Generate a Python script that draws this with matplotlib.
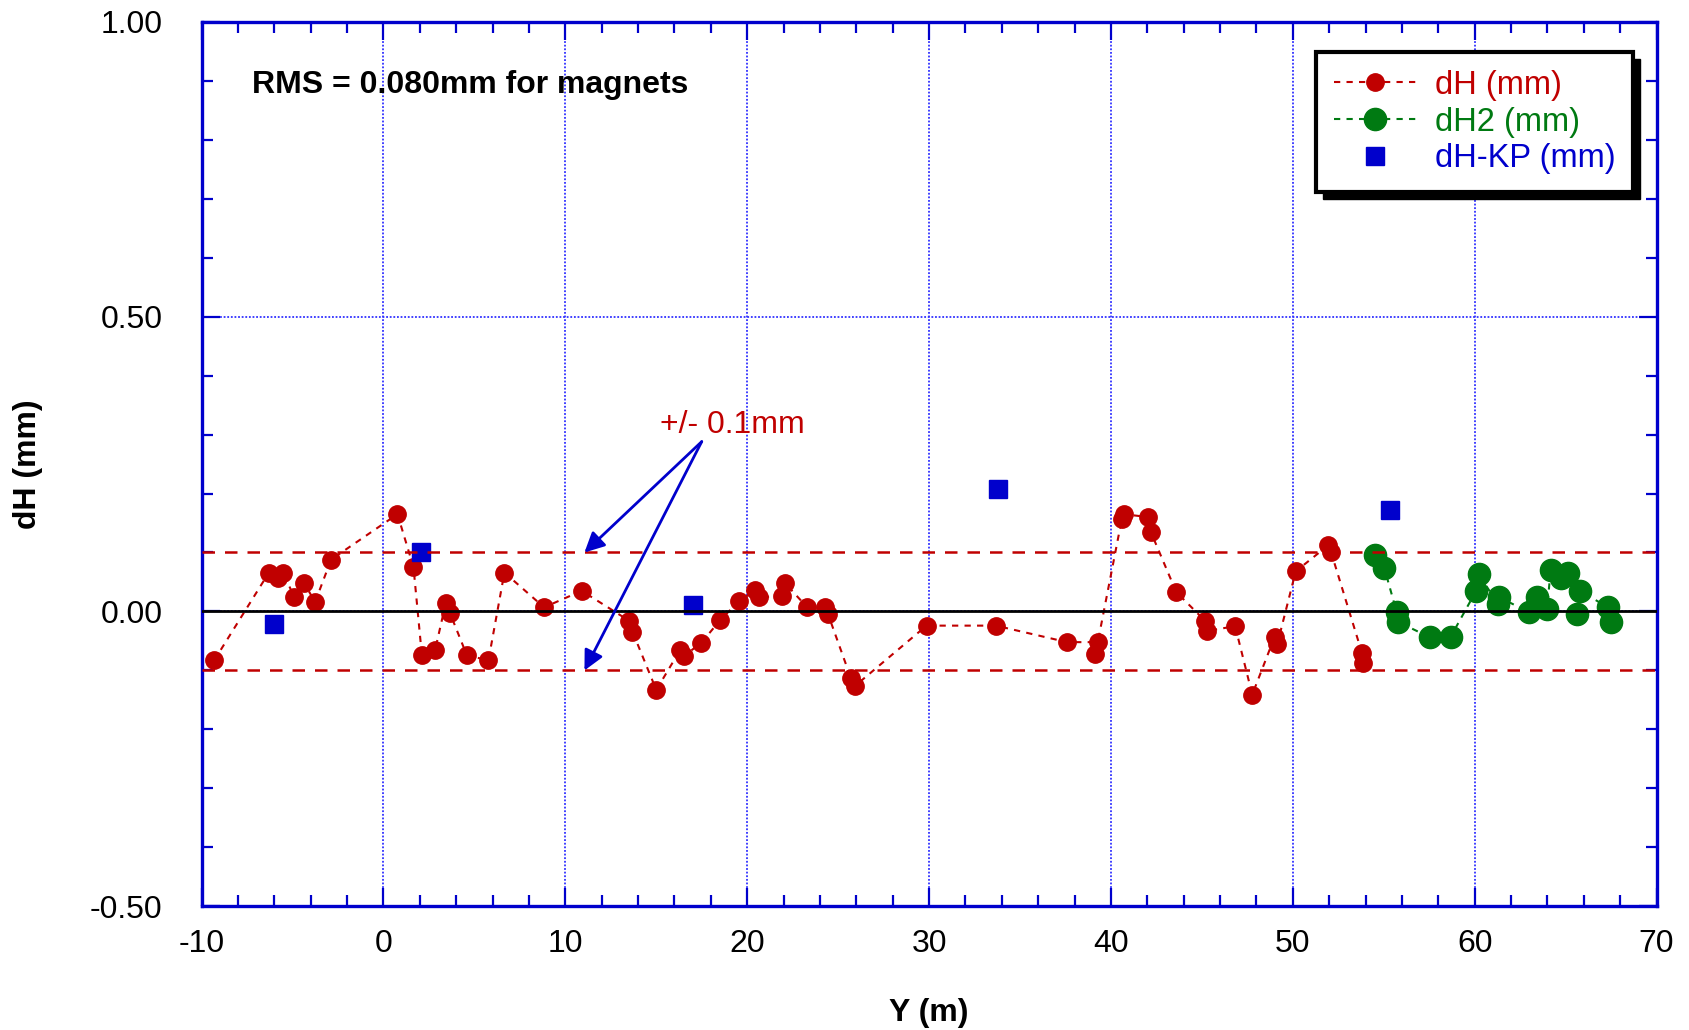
import matplotlib
matplotlib.use("Agg")
import matplotlib.pyplot as plt
from matplotlib.lines import Line2D
from matplotlib.patches import Rectangle
from matplotlib.transforms import IdentityTransform

plt.rcParams['font.family'] = ['Liberation Sans', 'DejaVu Sans']
plt.rcParams['axes.unicode_minus'] = False

# ---- data ----
dh_x = [-9.31, -6.30, -5.81, -5.53, -4.91, -4.36, -3.76, -2.88, 0.77, 1.65,
        2.11, 2.84, 3.43, 3.66, 4.58, 5.77, 6.65, 8.83, 10.90, 13.52,
        13.69, 15.00, 16.30, 16.50, 17.48, 18.53, 19.54, 20.45, 20.65, 21.93,
        22.08, 23.27, 24.30, 24.45, 25.70, 25.90, 29.86, 33.67, 37.59, 39.28,
        39.15, 40.60, 40.70, 42.05, 42.19, 43.59, 45.18, 45.28, 46.83, 47.77,
        49.00, 49.15, 50.16, 51.94, 52.10, 53.80, 53.85]
dh_y = [-0.083, 0.066, 0.056, 0.066, 0.025, 0.048, 0.016, 0.088, 0.165, 0.075,
        -0.074, -0.065, 0.015, -0.003, -0.074, -0.083, 0.066, 0.007, 0.035, -0.016,
        -0.034, -0.133, -0.066, -0.076, -0.053, -0.014, 0.017, 0.036, 0.024, 0.026,
        0.048, 0.008, 0.007, -0.005, -0.113, -0.127, -0.024, -0.024, -0.052, -0.052,
        -0.072, 0.157, 0.165, 0.160, 0.135, 0.033, -0.016, -0.033, -0.025, -0.141,
        -0.043, -0.055, 0.068, 0.112, 0.101, -0.070, -0.087]

dh2_x = [54.50, 55.03, 55.71, 55.81, 57.55, 58.68, 60.08, 60.22, 61.26, 61.36,
         62.97, 63.44, 63.98, 64.18, 64.76, 65.15, 65.60, 65.79, 67.33, 67.49]
dh2_y = [0.096, 0.074, -0.001, -0.018, -0.044, -0.043, 0.035, 0.064, 0.013, 0.024,
         -0.001, 0.024, 0.004, 0.071, 0.057, 0.065, -0.004, 0.035, 0.007, -0.018]

kp_x = [-6.01, 2.05, 17.02, 33.80, 55.35]
kp_y = [-0.022, 0.100, 0.011, 0.208, 0.172]

tol = 0.1
x_ticks = [-10, 0, 10, 20, 30, 40, 50, 60, 70]
y_ticks = [-0.50, 0.00, 0.50, 1.00]
y_ticklabels = ["-0.50", "0.00", "0.50", "1.00"]

RED = '#c00000'
GREEN = '#007a12'
BLUE = '#0000cc'
FS = 23
LFS = 23.5

fig = plt.figure(figsize=(16.9, 10.3), dpi=100)
ax = fig.add_axes([0.1193, 0.120, 0.8609, 0.859])

ax.set_xlim(-10, 70)
ax.set_ylim(-0.5, 1.0)
ax.set_xticks(x_ticks)
ax.set_xticks([v for v in range(-10, 71, 2) if v % 10 != 0], minor=True)
ax.set_yticks(y_ticks)
ax.set_yticklabels(y_ticklabels)
ax.set_yticks([-0.4, -0.3, -0.2, -0.1, 0.1, 0.2, 0.3, 0.4, 0.6, 0.7, 0.8, 0.9], minor=True)

ax.tick_params(which='both', direction='in', top=True, right=True, color=BLUE,
               labelsize=FS)
ax.tick_params(which='major', length=13, width=1.6)
ax.tick_params(which='minor', length=8, width=1.6)
ax.tick_params(axis='x', which='major', pad=16)
ax.tick_params(axis='y', which='major', pad=28)
for s in ax.spines.values():
    s.set_color(BLUE)
    s.set_linewidth(2.4)

ax.grid(True, which='major', color='#3030ff', linestyle=(0, (1, 1)), linewidth=1.3)
ax.set_axisbelow(True)

ax.set_xlabel("Y (m)", fontsize=FS, fontweight='bold', labelpad=28)
ax.set_ylabel("dH (mm)", fontsize=FS, fontweight='bold', labelpad=34)

# series
ax.plot(dh_x, dh_y, color=RED, linestyle=(0, (3, 3)), linewidth=1.5,
        marker='o', markersize=12.5, markerfacecolor=RED, markeredgecolor=RED, zorder=3)
ax.plot(dh2_x, dh2_y, color=GREEN, linestyle=(0, (3, 3)), linewidth=1.5,
        marker='o', markersize=16, markerfacecolor=GREEN, markeredgecolor=GREEN, zorder=3)
ax.plot(kp_x, kp_y, linestyle='none', marker='s', markersize=13,
        markerfacecolor=BLUE, markeredgecolor=BLUE, zorder=4)

# tolerance lines and zero line
ax.axhline(tol, color=RED, linestyle=(0, (5, 4)), linewidth=1.8, zorder=5)
ax.axhline(-tol, color=RED, linestyle=(0, (5, 4)), linewidth=1.8, zorder=5)
ax.axhline(0, color='black', linewidth=2.0, zorder=5)

# annotations
ax.text(-7.24, 0.893, "RMS = 0.080mm for magnets", fontsize=FS, fontweight='bold',
        ha='left', va='center', zorder=6)
ax.text(15.2, 0.316, "+/- 0.1mm", fontsize=FS, color=RED, ha='left', va='center', zorder=6)
for ty in (tol, -tol):
    ax.annotate("", xy=(11.05, ty), xytext=(17.5, 0.288),
                arrowprops=dict(arrowstyle='-|>', color=BLUE, lw=2.0,
                                mutation_scale=30, shrinkA=0, shrinkB=0),
                zorder=6)

# legend
handles = [
    Line2D([], [], color=RED, linestyle=(0, (3, 3)), linewidth=1.5, marker='o',
           markersize=12.5, markerfacecolor=RED, markeredgecolor=RED),
    Line2D([], [], color=GREEN, linestyle=(0, (3, 3)), linewidth=1.5, marker='o',
           markersize=16, markerfacecolor=GREEN, markeredgecolor=GREEN),
    Line2D([], [], linestyle='none', marker='s', markersize=13,
           markerfacecolor=BLUE, markeredgecolor=BLUE),
]
labels = ["dH (mm)", "dH2 (mm)", "dH-KP (mm)"]
leg = ax.legend(handles, labels, loc='upper right', bbox_to_anchor=(0.984, 0.966),
                borderaxespad=0, fontsize=LFS, fancybox=False, frameon=True,
                handlelength=2.55, handletextpad=0.55, labelspacing=0.18,
                borderpad=0.55, framealpha=1)
leg.get_frame().set_edgecolor('black')
leg.get_frame().set_linewidth(3.0)
leg.set_zorder(10)
for t, c in zip(leg.get_texts(), [RED, GREEN, BLUE]):
    t.set_color(c)

fig.canvas.draw()
bb = leg.get_window_extent()
shadow = Rectangle((bb.x0 + 7, bb.y0 - 7), bb.width, bb.height,
                   transform=IdentityTransform(), facecolor='black',
                   edgecolor='black', zorder=9, clip_on=False)
ax.add_patch(shadow)

fig.savefig("out.png", dpi=100)
